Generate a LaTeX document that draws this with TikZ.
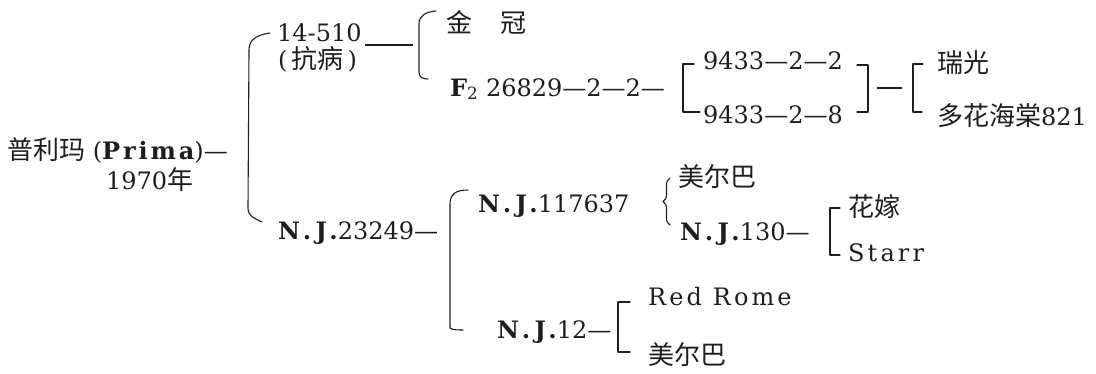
\documentclass[tikz,border=0pt]{standalone}
\usepackage{fontspec}
\setmainfont{DejaVu Serif}
\newfontfamily\cjk{Noto Sans CJK SC}
\newcommand\lsp{\addfontfeatures{LetterSpace=13}}
\newcommand\cj[1]{{\cjk\fontsize{26}{30}\selectfont #1}}
\newcommand\nj{{\bfseries\addfontfeatures{LetterSpace=18}N.J.}}
\usetikzlibrary{decorations.pathreplacing}
\definecolor{ink}{HTML}{1E1E1E}
\begin{document}
\begin{tikzpicture}[x=1pt,y=-1pt,
  lbl/.style={anchor=base west, inner sep=0pt, text=ink, font=\fontsize{24}{28}\selectfont},
  br/.style={draw=ink, line width=1.1pt, line cap=round, line join=round},
  conn/.style={draw=ink, line width=1.2pt}]
\useasboundingbox (0,0) rectangle (1096,373);
% texts
\node[lbl] (prima) at (7,159) {\cj{普利玛} ({\bfseries\addfontfeatures{LetterSpace=12}Prima})—};
\node[lbl] (year) at (106,189) {1970\cj{年}};
\node[lbl] (a1) at (277,41) {14-510};
\node[lbl] (a2) at (278,68) {(\,\cj{抗病}\,)};
\node[lbl] (jg) at (446,32) {\cj{金\hspace{1.1em}冠}};
\node[lbl] (f2) at (450,96) {\textbf{F}\textsubscript{2} 26829—2—2—};
\node[lbl] (p1) at (703,69) {9433—2—2};
\node[lbl] (p2) at (703,123) {9433—2—8};
\node[lbl] (rg) at (937,72) {\cj{瑞光}};
\node[lbl] (dh) at (937,125) {\cj{多花海棠}821};
\node[lbl] (nj1) at (278,239) {\nj23249—};
\node[lbl] (nj2) at (478,212) {\nj117637};
\node[lbl] (meb1) at (678,186) {\cj{美尔巴}};
\node[lbl] (nj3) at (680,240) {\nj130—};
\node[lbl] (hj) at (848,216) {\cj{花嫁}};
\node[lbl] (starr) at (848,261) {{\lsp Starr}};
\node[lbl] (nj4) at (497,338) {\nj12—};
\node[lbl] (rr) at (648,305) {{\lsp Red Rome}};
\node[lbl] (meb2) at (648,364) {\cj{美尔巴}};
% bracket end points
\coordinate (b1t) at (270,33);  \coordinate (b1b) at (262,222);
\coordinate (b2t) at (436,11);  \coordinate (b2b) at (428,79);
\coordinate (b5t) at (468,190); \coordinate (b5b) at (463,330);
\coordinate (dashL) at (365,45); \coordinate (dashR) at (413,45);
\coordinate (rbr) at (868,88);  \coordinate (lbr) at (913,88);
% big bracket
\draw[br] (b1t) .. controls (256,35) and (249,40) .. (249,50) -- (248,208)
  .. controls (248,216) and (254,218) .. (b1b);
% connector 14-510 group
\draw[conn] (dashL) -- (dashR);
% bracket 2
\draw[br] (b2t) .. controls (425,12) and (419,16) .. (419,24) -- (419,72)
  .. controls (419,77) and (422,79) .. (b2b);
% bracket 3 [ and ]
\draw[br] (694,64) -- (683,64) -- (683,112) -- (700,112);
\draw[br] (857,65) -- (868,65) -- (868,112) -- (857,112);
\draw[conn] ([xshift=9pt]rbr) -- ([xshift=-11pt]lbr);
% bracket 4
\draw[br] (923,64) -- (913,64) -- (913,112) -- (922,112);
% bracket 5
\draw[br] (b5t) .. controls (456,190) and (450,194) .. (450,204) -- (450,327)
  .. controls (450,329) and (452,330) .. (b5b);
% brace
\draw[br, decorate, decoration={brace, amplitude=7pt}] (670,225) -- (670,178);
% bracket 7
\draw[br] (840,208) -- (830,208) -- (830,255) -- (840,255);
% bracket 6
\draw[br] (630,302) -- (618,302) -- (618,352) -- (630,352);
\end{tikzpicture}
\end{document}
